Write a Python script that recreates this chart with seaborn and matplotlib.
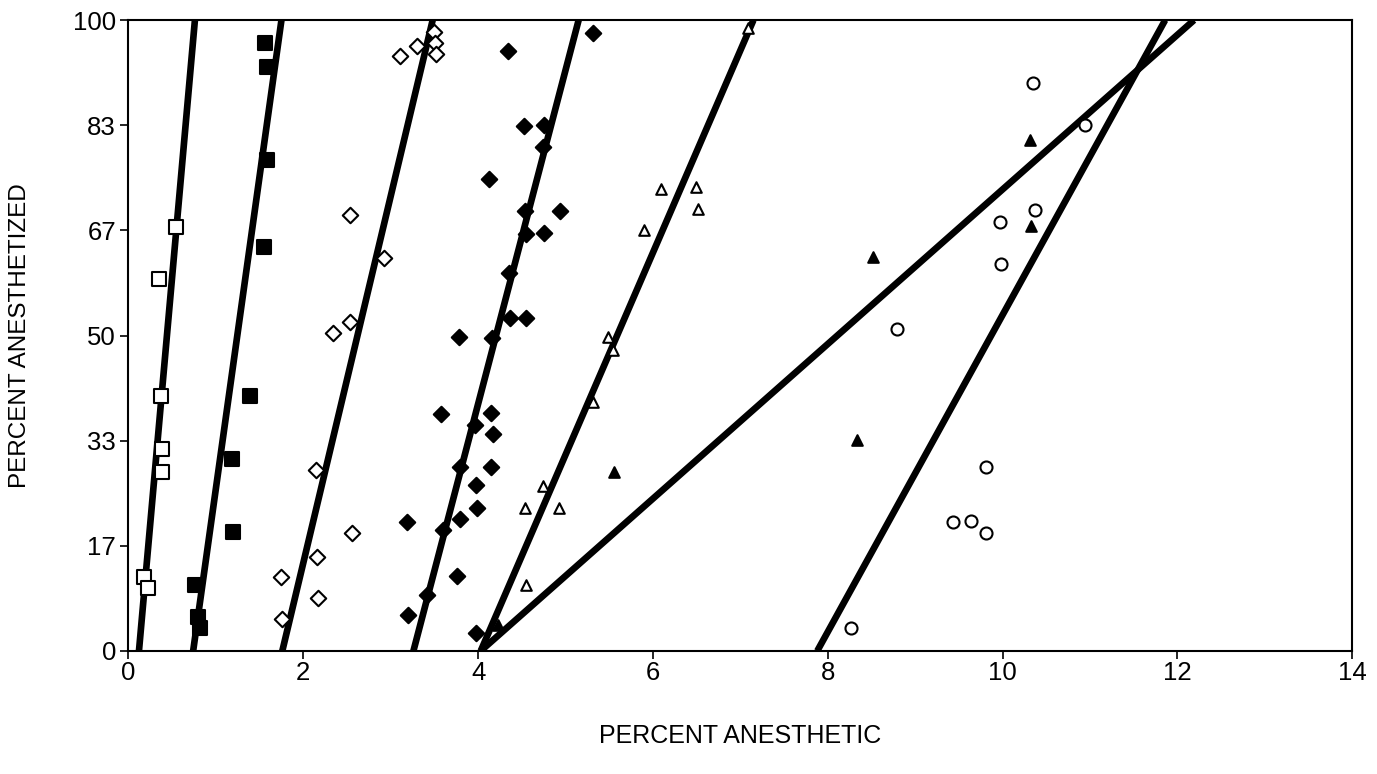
import numpy as np
import pandas as pd
import matplotlib
matplotlib.use("Agg")
import matplotlib.pyplot as plt
import seaborn as sns

sns.set_theme(style="white")
plt.rcParams["font.family"] = ["Liberation Sans", "DejaVu Sans"]

# ---------------------------------------------------------------
# data (percent anesthetic, percent anesthetized)
# ---------------------------------------------------------------
open_sq_x = [0.54, 0.35, 0.37, 0.38, 0.38, 0.18, 0.22]
open_sq_y = [67.2, 59.0, 40.4, 32.0, 28.4, 11.7, 10.0]

fill_sq_x = [1.56, 1.59, 1.59, 1.55, 1.39, 1.19, 1.20, 0.76, 0.80, 0.82]
fill_sq_y = [96.3, 92.6, 77.8, 64.0, 40.4, 30.4, 18.9, 10.5, 5.4, 3.6]

open_dia_x = [3.50, 3.51, 3.52, 3.30, 3.11, 2.53, 2.92, 2.53, 2.34, 2.15,
              2.56, 2.16, 2.17, 1.75, 1.76]
open_dia_y = [98.1, 96.4, 94.6, 95.9, 94.3, 69.1, 62.3, 52.1, 50.4, 28.7,
              18.7, 14.9, 8.4, 11.7, 5.1]

fill_dia_x = [5.32, 4.34, 4.53, 4.75, 4.74, 4.13, 4.54, 4.94, 4.55, 4.75,
              4.35, 4.36, 4.55, 3.78, 4.16, 3.58, 4.15, 3.96, 4.17, 3.79,
              4.15, 3.98, 3.99, 3.19, 3.79, 3.60, 3.76, 3.41, 3.20, 3.98]
fill_dia_y = [97.9, 95.1, 83.2, 83.4, 79.9, 74.8, 69.7, 69.7, 66.1, 66.2,
              59.9, 52.8, 52.8, 49.8, 49.6, 37.6, 37.7, 35.8, 34.4, 29.2,
              29.2, 26.3, 22.7, 20.4, 20.9, 19.2, 11.9, 8.9, 5.7, 2.8]

open_tri_x = [7.09, 6.09, 6.49, 6.51, 5.90, 5.49, 5.54, 5.32, 4.74, 4.54, 4.92, 4.55]
open_tri_y = [98.7, 73.2, 73.5, 70.1, 66.7, 49.8, 47.7, 39.4, 26.2, 22.6, 22.6, 10.5]

fill_tri_x = [4.23, 5.56, 8.34, 8.52, 10.31, 10.32]
fill_tri_y = [4.1, 28.3, 33.5, 62.4, 81.0, 67.4]

circle_x = [8.27, 8.79, 9.43, 9.64, 9.81, 9.81, 9.97, 9.98, 10.35, 10.37, 10.94]
circle_y = [3.6, 51.0, 20.5, 20.6, 18.7, 29.2, 68.0, 61.3, 90.0, 69.9, 83.4]

# fitted lines: x where each line meets 0 % and 100 %
line_x0 = [0.12, 0.74, 1.76, 3.26, 4.03, 4.03, 7.88]
line_x100 = [0.76, 1.75, 3.48, 5.15, 7.15, 12.19, 11.86]

y_ticks = [0, 100 / 6, 200 / 6, 50, 400 / 6, 500 / 6, 100]
y_tick_labels = ["0", "17", "33", "50", "67", "83", "100"]
x_ticks = [0, 2, 4, 6, 8, 10, 12, 14]

# ---------------------------------------------------------------
groups = [
    (open_sq_x, open_sq_y, "s", "white", 95),
    (fill_sq_x, fill_sq_y, "s", "black", 95),
    (open_dia_x, open_dia_y, "D", "white", 62),
    (fill_dia_x, fill_dia_y, "D", "black", 62),
    (open_tri_x, open_tri_y, "^", "white", 58),
    (fill_tri_x, fill_tri_y, "^", "black", 58),
    (circle_x, circle_y, "o", "white", 75),
]

fig = plt.figure(figsize=(13.77, 7.74), dpi=100)
ax = fig.add_axes([0.0933, 0.159, 0.8887, 0.815])

for x0, x1 in zip(line_x0, line_x100):
    sns.lineplot(x=[x0, x1], y=[0, 100], ax=ax, color="black", lw=4.8,
                 solid_capstyle="butt", zorder=2)

for xs, ys, mk, fc, sz in groups:
    df = pd.DataFrame({"x": xs, "y": ys})
    sns.scatterplot(data=df, x="x", y="y", ax=ax, marker=mk, s=sz,
                    facecolor=fc, edgecolor="black", linewidth=1.5, zorder=3)

ax.set_xlim(0, 14)
ax.set_ylim(0, 100)
ax.set_xticks(x_ticks)
ax.set_xticklabels([str(v) for v in x_ticks])
ax.set_yticks(y_ticks)
ax.set_yticklabels(y_tick_labels)
ax.tick_params(axis="both", direction="out", length=6, width=1.2,
               labelsize=18.5, colors="black")
ax.tick_params(axis="x", pad=1.5, bottom=True)
ax.tick_params(axis="y", pad=3, left=True)

for sp in ax.spines.values():
    sp.set_visible(True)
    sp.set_color("black")
    sp.set_linewidth(1.5)

ax.set_xlabel("PERCENT ANESTHETIC", fontsize=18, labelpad=28, color="black")
ax.set_ylabel("PERCENT ANESTHETIZED", fontsize=17.5, labelpad=30, color="black")
ax.grid(False)

fig.savefig("out.png", dpi=100)
